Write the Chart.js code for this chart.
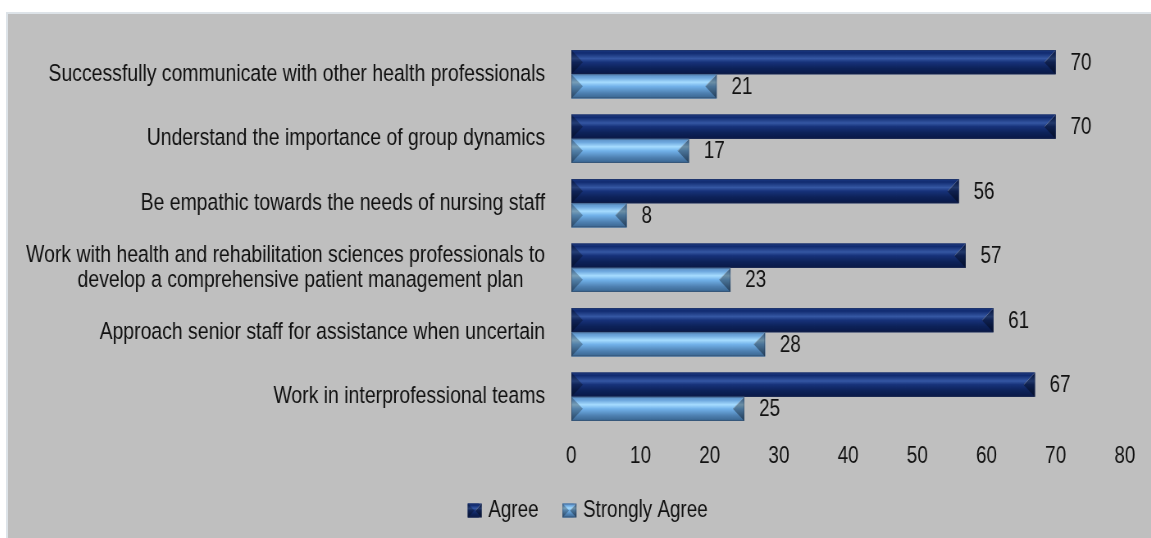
<!DOCTYPE html>
<html>
<head>
<meta charset="utf-8">
<script src="https://cdn.jsdelivr.net/npm/chart.js@4/dist/chart.umd.min.js"></script>
<style>
  html, body { margin: 0; padding: 0; background: #fff; }
  #panel {
    position: absolute; left: 6px; top: 12px; width: 1143px; height: 524px;
    border-left: 2px solid #dde3e8; border-top: 2px solid #dde3e8;
    background: #bfbfbf; overflow: hidden;
  }
  /* the chart is laid out wide and squeezed to give narrow lettering */
  #squeeze { width: 1394px; height: 524px; transform: scaleX(0.82); transform-origin: 0 0; }
  #squeeze canvas { display: block; }
</style>
</head>
<body>
<div id="panel"><div id="squeeze"><canvas id="skillsChart" width="1394" height="524"></canvas></div></div>
<script>
const categories = [
  'Successfully communicate with other health professionals',
  'Understand the importance of group dynamics',
  'Be empathic towards the needs of nursing staff',
  ['Work with health and rehabilitation sciences professionals to', 'develop a comprehensive patient management plan    '],
  'Approach senior staff for assistance when uncertain',
  'Work in interprofessional teams'
];
const agree = [70, 70, 56, 57, 61, 67];
const stronglyAgree = [21, 17, 8, 23, 28, 25];
const xTicks = [0, 10, 20, 30, 40, 50, 60, 70, 80];

const FONT = '"Liberation Sans", Arial, sans-serif';

// vertical shading for each series, top to bottom
const shades = [
  [[0, '#1d3a86'], [0.12, '#112b70'], [0.35, '#3557a3'], [0.5, '#17327a'], [0.75, '#0d2259'], [1, '#091847']],
  [[0, '#5a8dc2'], [0.15, '#6ea8de'], [0.33, '#a6dcff'], [0.5, '#72b2ea'], [0.78, '#4e80b1'], [1, '#39648e']]
];

function bevelRect(ctx, left, top, right, bottom, stops, cap) {
  const h = bottom - top;
  const g = ctx.createLinearGradient(0, top, 0, bottom);
  stops.forEach(s => g.addColorStop(s[0], s[1]));
  ctx.fillStyle = g;
  ctx.fillRect(left, top, right - left, h);
  const b = Math.min(cap, (right - left) / 2);
  const mid = top + h / 2;
  // end caps
  ctx.fillStyle = 'rgba(0,0,0,0.28)';
  ctx.beginPath();
  ctx.moveTo(left, top); ctx.lineTo(left + b, mid); ctx.lineTo(left, bottom); ctx.closePath();
  ctx.fill();
  ctx.fillStyle = 'rgba(0,0,0,0.35)';
  ctx.beginPath();
  ctx.moveTo(right, top); ctx.lineTo(right - b, mid); ctx.lineTo(right, bottom); ctx.closePath();
  ctx.fill();
  ctx.strokeStyle = 'rgba(255,255,255,0.25)';
  ctx.lineWidth = 1;
  ctx.beginPath();
  ctx.moveTo(right - b + 0.5, mid); ctx.lineTo(right - 0.5, top + 0.5);
  ctx.stroke();
  ctx.strokeStyle = 'rgba(40,50,70,0.35)';
  ctx.strokeRect(left + 0.5, top + 0.5, right - left - 1, h - 1);
}

const bevelBars = {
  id: 'bevelBars',
  afterLayout(chart) {
    // legend sits a little right of the canvas centre
    chart.legend.left += 26;
    chart.legend.right += 26;
  },
  afterDatasetsDraw(chart) {
    const ctx = chart.ctx;
    ctx.save();
    chart.data.datasets.forEach((ds, di) => {
      const meta = chart.getDatasetMeta(di);
      meta.data.forEach((bar, i) => {
        const p = bar.getProps(['x', 'y', 'base', 'height'], true);
        const top = p.y - p.height / 2;
        bevelRect(ctx, Math.min(p.base, p.x), top, Math.max(p.base, p.x), top + p.height, shades[di], 14);
        // value label
        ctx.fillStyle = '#111';
        ctx.font = '23px ' + FONT;
        ctx.textAlign = 'left';
        ctx.textBaseline = 'middle';
        ctx.fillText(String(ds.data[i]), p.x + 18, p.y + 1);
      });
    });
    ctx.restore();
  },
  afterDraw(chart) {
    const ctx = chart.ctx;
    ctx.save();
    chart.legend.legendHitBoxes.forEach((hb, i) => {
      const top = hb.top + (hb.height - 14) / 2;
      bevelRect(ctx, hb.left, top, hb.left + 17, top + 14, shades[i], 8);
    });
    ctx.restore();
  }
};

function noOverhang(s) {
  s.paddingTop = 0; s.paddingBottom = 0; s.paddingLeft = 0; s.paddingRight = 0;
}

new Chart(document.getElementById('skillsChart'), {
  type: 'bar',
  data: {
    labels: categories,
    datasets: [
      { label: 'Agree', data: agree, backgroundColor: '#132c70', barPercentage: 1, categoryPercentage: 0.75 },
      { label: 'Strongly Agree', data: stronglyAgree, backgroundColor: '#6aa6dc', barPercentage: 1, categoryPercentage: 0.75 }
    ]
  },
  options: {
    indexAxis: 'y',
    responsive: false,
    animation: false,
    layout: { padding: { top: 28, right: 32, bottom: 6, left: 0 } },
    scales: {
      x: {
        min: 0, max: 80,
        grid: { display: false, drawTicks: false },
        border: { display: false },
        afterBuildTicks: s => { s.ticks = xTicks.map(v => ({ value: v })); },
        afterFit: s => { s.height = 60; noOverhang(s); },
        ticks: { padding: 14, color: '#111', font: { family: FONT, size: 23 } }
      },
      y: {
        grid: { display: false, drawTicks: false },
        border: { display: false },
        afterFit: s => { s.width = 687; noOverhang(s); },
        ticks: { padding: 32, color: '#111', font: { family: FONT, size: 23.7, lineHeight: 1.07 } }
      }
    },
    plugins: {
      tooltip: { enabled: false },
      legend: {
        position: 'bottom',
        labels: {
          boxWidth: 13.5, boxHeight: 14, padding: 10, color: '#111',
          font: { family: FONT, size: 23 },
          // extra room after the first entry
          generateLabels: chart => Chart.defaults.plugins.legend.labels.generateLabels(chart)
            .map((item, i) => Object.assign(item, { text: i === 0 ? item.text + '   ' : item.text }))
        }
      }
    }
  },
  plugins: [bevelBars]
});
</script>
</body>
</html>
